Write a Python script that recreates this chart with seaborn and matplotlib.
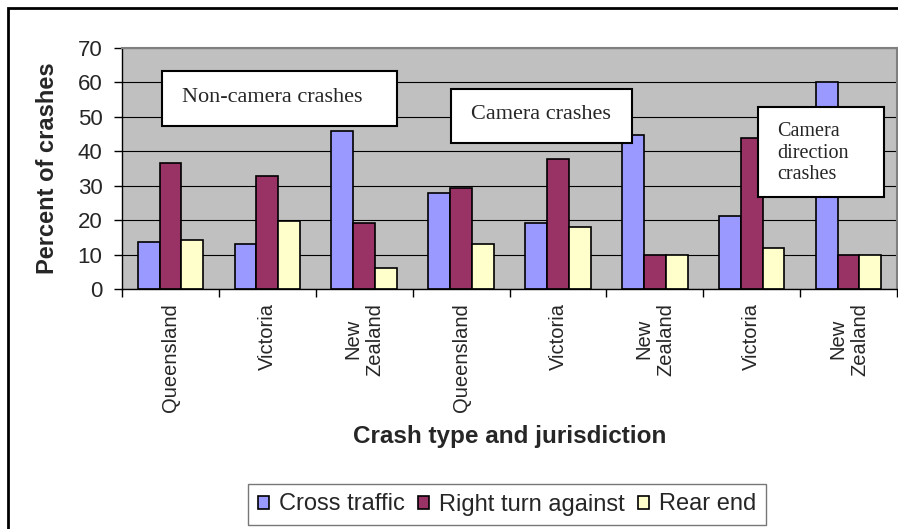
import pandas as pd
import matplotlib.pyplot as plt
import matplotlib.patches as mpatches
import seaborn as sns

# chart data
places = ['Queensland', 'Victoria', 'New\nZealand', 'Queensland', 'Victoria',
          'New\nZealand', 'Victoria', 'New\nZealand']
crash_types = ['Cross traffic', 'Right turn against', 'Rear end']
cross_traffic = [13.6, 13.1, 45.8, 27.9, 19.2, 44.7, 21.3, 60.1]
right_turn = [36.6, 32.8, 19.2, 29.4, 37.7, 10, 43.8, 10]
rear_end = [14.2, 19.7, 6.1, 13.1, 18.0, 10, 12.0, 10]
y_ticks = [0, 10, 20, 30, 40, 50, 60, 70]

colors = ['#9999FF', '#993366', '#FFFFCC']

# long table for seaborn, one slot per bar group (places repeat)
slots = [str(i) for i in range(len(places))]
df = pd.DataFrame({'slot': slots * 3,
                   'type': sum([[t] * len(places) for t in crash_types], []),
                   'pct': cross_traffic + right_turn + rear_end})

sns.set_style('ticks')
plt.rcParams['font.family'] = ['Liberation Sans', 'DejaVu Sans']

W, H = 898, 529
fig = plt.figure(figsize=(W / 100, H / 100), dpi=100)


def fx(px):
    return px / W


def fy(py):
    return 1 - py / H


ax = fig.add_axes([fx(122), fy(289), fx(897) - fx(122), fy(48) - fy(289)])
ax.set_facecolor('#C0C0C0')

sns.barplot(data=df, x='slot', y='pct', hue='type', order=slots,
            hue_order=crash_types, palette=colors, saturation=1,
            width=0.675, edgecolor='black', linewidth=1.2, ax=ax)

ax.set_xlim(-0.5, len(places) - 0.5)
ax.set_ylim(0, 70)
ax.set_yticks(y_ticks)
ax.yaxis.grid(True, color='black', linewidth=0.8)
ax.set_axisbelow(True)

ax.set_xticks(range(len(places)))
ax.set_xticklabels(places, rotation=90, fontsize=14.5)
ax.set_xticks([i - 0.5 for i in range(len(places) + 1)], minor=True)
ax.tick_params(axis='x', which='major', length=0, pad=10)
ax.tick_params(axis='x', which='minor', length=6, width=1, color='black')
ax.tick_params(axis='y', length=6, width=1, color='black', labelsize=16, pad=8)

for side in ['top', 'right']:
    ax.spines[side].set_color('#808080')
    ax.spines[side].set_linewidth(1.5)
for side in ['left', 'bottom']:
    ax.spines[side].set_color('black')
    ax.spines[side].set_linewidth(1)

ax.set_xlabel('Crash type and jurisdiction', fontsize=17.5, fontweight='bold')
ax.xaxis.set_label_coords(0.5, (289 - 425) / 241)
ax.set_ylabel('Percent of crashes', fontsize=17, fontweight='bold')
ax.yaxis.set_label_coords((59 - 122) / 775, 0.5)

# legend below the chart
handles, labels = ax.get_legend_handles_labels()
ax.get_legend().remove()
leg = fig.legend(handles, labels, loc='center', bbox_to_anchor=(fx(507), fy(504.5)),
                 ncol=3, fontsize=17, frameon=True, fancybox=False,
                 handlelength=0.47, handleheight=0.47, handletextpad=0.42,
                 columnspacing=0.55, borderpad=0.42)
leg.get_frame().set_edgecolor('#555555')
leg.get_frame().set_linewidth(1)


# white annotation boxes
def note_box(x0, y0, x1, y1):
    fig.patches.append(mpatches.Rectangle((fx(x0), fy(y1)), fx(x1) - fx(x0),
                                          fy(y0) - fy(y1), transform=fig.transFigure,
                                          facecolor='white', edgecolor='black',
                                          linewidth=1.5, zorder=2))


note_box(162, 71, 397, 126)
fig.text(fx(272), fy(97), 'Non-camera crashes', ha='center', va='center',
         fontsize=16, family='Liberation Serif', zorder=3)
note_box(451, 89, 632, 143)
fig.text(fx(541), fy(114), 'Camera crashes', ha='center', va='center',
         fontsize=16, family='Liberation Serif', zorder=3)
note_box(758, 107, 884, 197)
fig.text(fx(777), fy(153), 'Camera\ndirection\ncrashes', ha='left', va='center',
         fontsize=14.5, family='Liberation Serif', linespacing=1.15, zorder=3)

# outer chart border (right and bottom edges fall outside the picture)
fig.patches.append(mpatches.Rectangle((fx(8), fy(540)), fx(910) - fx(8), fy(8) - fy(540),
                                      transform=fig.transFigure, fill=False,
                                      edgecolor='black', linewidth=2, zorder=4))

plt.savefig('out.png', dpi=100)
